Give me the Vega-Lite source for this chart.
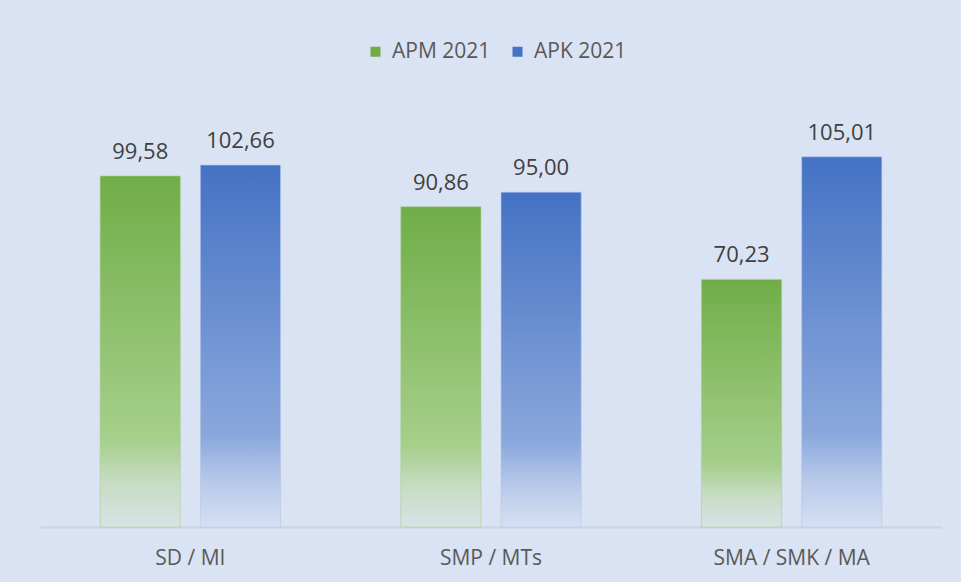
{
  "$schema": "https://vega.github.io/schema/vega-lite/v6.json",
  "width": 902,
  "height": 423,
  "autosize": {"type": "none"},
  "padding": {"left": 40, "top": 104, "right": 19, "bottom": 55},
  "background": "#dae3f3",
  "config": {
    "view": {"stroke": null},
    "locale": {"number": {"decimal": ",", "thousands": ".", "grouping": [3], "currency": ["", " €"]}},
    "font": "Open Sans"
  },
  "data": {
    "values": [
      {"category": "SD / MI", "series": "APM 2021", "value": 99.58},
      {"category": "SD / MI", "series": "APK 2021", "value": 102.66},
      {"category": "SMP / MTs", "series": "APM 2021", "value": 90.86},
      {"category": "SMP / MTs", "series": "APK 2021", "value": 95.00},
      {"category": "SMA / SMK / MA", "series": "APM 2021", "value": 70.23},
      {"category": "SMA / SMK / MA", "series": "APK 2021", "value": 105.01}
    ]
  },
  "encoding": {
    "x": {
      "field": "category", "type": "nominal", "sort": null,
      "scale": {"paddingInner": 0, "paddingOuter": 0},
      "axis": {
        "title": null, "labelAngle": 0, "ticks": false,
        "domainColor": "#d0d4d9", "domainWidth": 2,
        "labelFontSize": 21, "labelColor": "#595959", "labelPadding": 20,
        "labelFont": "Open Sans"
      }
    },
    "xOffset": {
      "field": "series", "type": "nominal", "sort": ["APM 2021", "APK 2021"],
      "scale": {"paddingInner": 0.2, "paddingOuter": 0.6}
    },
    "y": {
      "field": "value", "type": "quantitative",
      "scale": {"domain": [0, 120], "nice": false},
      "axis": null
    }
  },
  "layer": [
    {
      "transform": [{"filter": "datum.value < 0"}],
      "mark": {"type": "bar"},
      "encoding": {
        "color": {
          "field": "series", "type": "nominal",
          "scale": {"domain": ["APM 2021", "APK 2021"], "range": ["#70ad47", "#4472c4"]},
          "legend": {
            "title": null, "orient": "none", "direction": "horizontal",
            "legendX": 325, "legendY": -63,
            "symbolType": "square", "symbolSize": 100, "symbolStrokeWidth": 0,
            "labelFontSize": 21, "labelColor": "#595959", "labelFont": "Open Sans",
            "columnPadding": 16, "labelOffset": 6
          }
        }
      }
    },
    {
      "transform": [{"filter": "datum.series === 'APM 2021'"}],
      "mark": {
        "type": "bar",
        "stroke": "#a9d18e", "strokeWidth": 1, "strokeOpacity": 0.6,
        "color": {
          "gradient": "linear", "x1": 0, "y1": 0, "x2": 0, "y2": 1,
          "stops": [
            {"offset": 0, "color": "#70ad47"},
            {"offset": 0.75, "color": "#a6cf8b"},
            {"offset": 0.87, "color": "#c6dcc2"},
            {"offset": 1, "color": "#d8e3e6"}
          ]
        }
      }
    },
    {
      "transform": [{"filter": "datum.series === 'APK 2021'"}],
      "mark": {
        "type": "bar",
        "stroke": "#b4c7e7", "strokeWidth": 1, "strokeOpacity": 0.6,
        "color": {
          "gradient": "linear", "x1": 0, "y1": 0, "x2": 0, "y2": 1,
          "stops": [
            {"offset": 0, "color": "#4472c4"},
            {"offset": 0.75, "color": "#8ba8dc"},
            {"offset": 0.87, "color": "#b6c8e9"},
            {"offset": 1, "color": "#d6e0f2"}
          ]
        }
      }
    },
    {
      "mark": {"type": "text", "baseline": "bottom", "dy": -12, "fontSize": 22, "color": "#404040", "font": "Open Sans"},
      "encoding": {
        "text": {"field": "value", "type": "quantitative", "format": ".2f"}
      }
    }
  ]
}
